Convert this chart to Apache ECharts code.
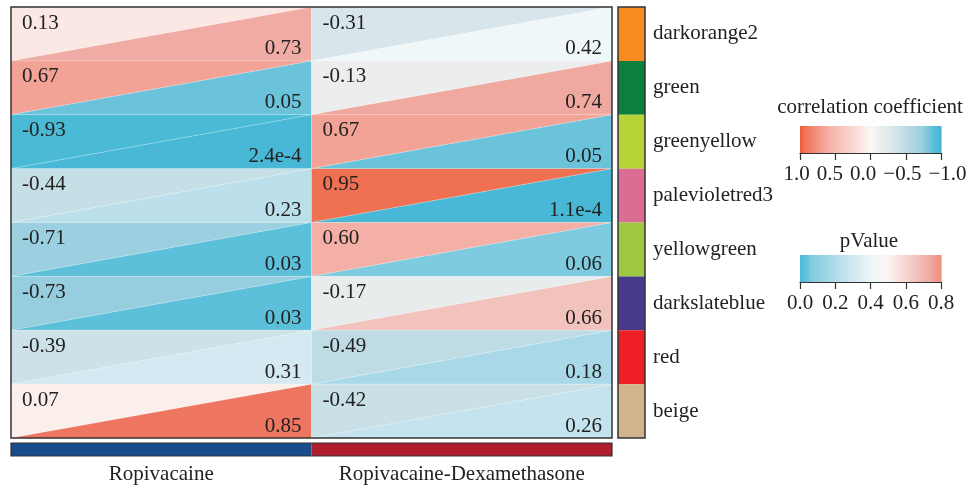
<!DOCTYPE html>
<html>
<head>
<meta charset="utf-8">
<script src="https://cdn.jsdelivr.net/npm/echarts@6/dist/echarts.min.js"></script>
<style>
  html, body { margin: 0; padding: 0; background: #fff; }
  #chart { width: 971px; height: 489px; }
</style>
</head>
<body>
<div id="chart"></div>
<script>
// Module–trait correlation heatmap: each cell split into a correlation triangle
// (upper left) and a p-value triangle (lower right).
const modules = ['darkorange2', 'green', 'greenyellow', 'palevioletred3', 'yellowgreen', 'darkslateblue', 'red', 'beige'];
const moduleColors = ['#F68B21', '#0C7E3E', '#B7D436', '#DB6C94', '#9DC840', '#463B8B', '#EE1F26', '#D2B58C'];
const groups = ['Ropivacaine', 'Ropivacaine-Dexamethasone'];
const groupColors = ['#164B8C', '#AE1E2E'];

const corrRopivacaine = [0.13, 0.67, -0.93, -0.44, -0.71, -0.73, -0.39, 0.07];
const pRopivacaine = [0.73, 0.05, 2.4e-4, 0.23, 0.03, 0.03, 0.31, 0.85];
const corrRopiDexa = [-0.31, -0.13, 0.67, 0.95, 0.60, -0.17, -0.49, -0.42];
const pRopiDexa = [0.42, 0.74, 0.05, 1.1e-4, 0.06, 0.66, 0.18, 0.26];

// legend tick values
const corrTicks = [1, 0.5, 0, -0.5, -1];
const pTicks = [0, 0.2, 0.4, 0.6, 0.8];

// colour ramps (value -> colour stops)
const corrStops = [
  [-1.0, '#45B7D4'], [-0.93, '#4ABAD5'], [-0.72, '#9ACEDF'], [-0.45, '#C5DEE6'],
  [-0.3, '#D9E6EB'], [-0.13, '#ECEEEE'], [0, '#FBF7F6'], [0.1, '#FBEBE8'],
  [0.6, '#F4B0A6'], [0.67, '#F2A396'], [0.95, '#F07052'], [1.0, '#EC5A38']
];
const pStops = [
  [0, '#48B8D6'], [0.03, '#5DC0DA'], [0.05, '#6AC3DB'], [0.06, '#7ECBDF'],
  [0.18, '#A9D9E8'], [0.23, '#BCE0EB'], [0.31, '#D4E9F2'], [0.42, '#F0F7F9'],
  [0.5, '#FBF4F3'], [0.66, '#F2C2BC'], [0.74, '#F0A9A0'], [0.85, '#EE7660']
];

function hexToRgb(h) {
  return [parseInt(h.slice(1, 3), 16), parseInt(h.slice(3, 5), 16), parseInt(h.slice(5, 7), 16)];
}
function rampColor(stops, v) {
  if (v <= stops[0][0]) return stops[0][1];
  for (let i = 1; i < stops.length; i++) {
    if (v <= stops[i][0]) {
      const t = (v - stops[i - 1][0]) / (stops[i][0] - stops[i - 1][0]);
      const a = hexToRgb(stops[i - 1][1]), b = hexToRgb(stops[i][1]);
      const c = a.map((x, k) => Math.round(x + (b[k] - x) * t));
      return 'rgb(' + c.join(',') + ')';
    }
  }
  return stops[stops.length - 1][1];
}
const fmtCorr = v => v.toFixed(2);
const fmtP = v => (v < 0.01 ? v.toExponential(1) : v.toFixed(2));
const fmtTick = v => (v < 0 ? '\u2212' + Math.abs(v).toFixed(1) : v.toFixed(1));

const FONT = '"Liberation Serif", "Times New Roman", serif';
const FS = 21;
const TXT = '#222';

const measureCtx = document.createElement('canvas').getContext('2d');
measureCtx.font = FS + 'px ' + FONT;
const textWidth = s => measureCtx.measureText(s).width;

const cellData = [];
modules.forEach((m, r) => {
  cellData.push([0, r, corrRopivacaine[r], pRopivacaine[r]]);
  cellData.push([1, r, corrRopiDexa[r], pRopiDexa[r]]);
});

function renderCell(params, api) {
  const ctr = api.coord([api.value(0), api.value(1)]);
  const sz = api.size([1, 1]);
  const x0 = ctr[0] - sz[0] / 2, x1 = ctr[0] + sz[0] / 2;
  const y0 = ctr[1] - sz[1] / 2, y1 = ctr[1] + sz[1] / 2;
  const corr = api.value(2), p = api.value(3);
  const edge = { stroke: 'rgba(255,255,255,0.3)', lineWidth: 0.6 };
  return {
    type: 'group',
    children: [
      { type: 'polygon', shape: { points: [[x0, y0], [x1, y0], [x0, y1]] },
        style: Object.assign({ fill: rampColor(corrStops, corr) }, edge) },
      { type: 'polygon', shape: { points: [[x1, y0], [x1, y1], [x0, y1]] },
        style: Object.assign({ fill: rampColor(pStops, p) }, edge) },
      { type: 'text', style: { text: fmtCorr(corr), x: x0 + 11, y: y0 + 16,
        verticalAlign: 'middle', align: 'left', fill: TXT, fontSize: FS, fontFamily: FONT } },
      { type: 'text', style: { text: fmtP(p), x: x1 - 10, y: y1 - 12,
        verticalAlign: 'middle', align: 'right', fill: TXT, fontSize: FS, fontFamily: FONT } }
    ]
  };
}

function blockRenderer(colors) {
  return function (params, api) {
    const ctr = api.coord([api.value(0), api.value(1)]);
    const sz = api.size([1, 1]);
    return { type: 'rect', shape: { x: ctr[0] - sz[0] / 2, y: ctr[1] - sz[1] / 2, width: sz[0], height: sz[1] },
      style: { fill: colors[params.dataIndex] } };
  };
}

// colour bar made of narrow stripes; tick labels sit under their ticks and are
// spread apart where neighbouring labels would collide
function legendRenderer(stops, lo, hi, n, ticks) {
  return function (params, api) {
    const cs = params.coordSys;
    const children = [];
    const step = (hi - lo) / n;
    for (let i = 0; i < n; i++) {
      const a = api.coord([lo + i * step, 0])[0];
      const b = api.coord([lo + (i + 1) * step, 0])[0];
      const v = lo + (i + 0.5) * step;
      children.push({
        type: 'rect',
        shape: { x: Math.min(a, b), y: cs.y, width: Math.abs(b - a) + 0.6, height: cs.height },
        style: { fill: rampColor(stops, v) }
      });
    }
    const labels = ticks.map(t => ({ text: fmtTick(t), cx: api.coord([t, 0])[0] }))
      .map(l => Object.assign(l, { w: textWidth(l.text) }))
      .sort((p, q) => p.cx - q.cx);
    const gap = 7;
    for (let iter = 0; iter < 40; iter++) {
      for (let i = 0; i < labels.length - 1; i++) {
        const a = labels[i], b = labels[i + 1];
        const overlap = (a.cx + a.w / 2 + gap) - (b.cx - b.w / 2);
        if (overlap > 0) {
          // the right-hand end label is allowed to move less than its neighbours
          const share = i + 1 === labels.length - 1 ? 0.25 : 0.5;
          a.cx -= overlap * (1 - share);
          b.cx += overlap * share;
        }
      }
    }
    labels.forEach(l => {
      children.push({
        type: 'text',
        style: { text: l.text, x: l.cx, y: cs.y + cs.height + 21,
          align: 'center', verticalAlign: 'middle', fill: TXT, fontSize: FS, fontFamily: FONT }
      });
    });
    return { type: 'group', children };
  };
}

const chart = echarts.init(document.getElementById('chart'), null, { renderer: 'canvas' });

const rowData = modules.map((m, r) => [0, r]);
const colData = groups.map((g, c) => [c, 0]);

const axisLineStyle = { color: '#333', width: 1.2 };

chart.setOption({
  backgroundColor: '#fff',
  animation: false,
  graphic: [
    { type: 'text', x: 870, y: 107, style: { text: 'correlation coefficient', align: 'center',
      verticalAlign: 'middle', fill: TXT, fontSize: FS, fontFamily: FONT } },
    { type: 'text', x: 869, y: 241, style: { text: 'pValue', align: 'center',
      verticalAlign: 'middle', fill: TXT, fontSize: FS, fontFamily: FONT } }
  ],
  grid: [
    { left: 11, top: 7, width: 601, height: 431, show: true, z: 5,
      borderColor: '#333', borderWidth: 1.5, backgroundColor: 'transparent' },
    { left: 618, top: 7, width: 27, height: 431, show: true, z: 5,
      borderColor: '#333', borderWidth: 1.5, backgroundColor: 'transparent' },
    { left: 11, top: 443, width: 601, height: 13, show: true, z: 5,
      borderColor: '#333', borderWidth: 1.2, backgroundColor: 'transparent' },
    { left: 800, top: 126, width: 141, height: 27 },
    { left: 800, top: 255, width: 141, height: 27 }
  ],
  xAxis: [
    { gridIndex: 0, type: 'category', data: groups, show: false },
    { gridIndex: 1, type: 'category', data: ['module'], show: false },
    { gridIndex: 2, type: 'category', data: groups,
      axisLine: { show: false }, axisTick: { show: false },
      axisLabel: { interval: 0, margin: 8, color: TXT, fontSize: FS, fontFamily: FONT } },
    { gridIndex: 3, type: 'value', min: -1, max: 1, interval: 0.5, inverse: true,
      axisLine: { show: true, lineStyle: axisLineStyle },
      axisTick: { show: true, length: 7, lineStyle: axisLineStyle },
      splitLine: { show: false }, axisLabel: { show: false } },
    { gridIndex: 4, type: 'value', min: 0, max: 0.8, interval: 0.2,
      axisLine: { show: true, lineStyle: axisLineStyle },
      axisTick: { show: true, length: 7, lineStyle: axisLineStyle },
      splitLine: { show: false }, axisLabel: { show: false } }
  ],
  yAxis: [
    { gridIndex: 0, type: 'category', data: modules, inverse: true, show: false },
    { gridIndex: 1, type: 'category', data: modules, inverse: true, position: 'right',
      axisLine: { show: false }, axisTick: { show: false },
      axisLabel: { interval: 0, margin: 8, padding: [5, 0, 0, 0], color: TXT, fontSize: FS, fontFamily: FONT } },
    { gridIndex: 2, type: 'category', data: ['group'], show: false },
    { gridIndex: 3, type: 'value', min: 0, max: 1, show: false },
    { gridIndex: 4, type: 'value', min: 0, max: 1, show: false }
  ],
  series: [
    { type: 'custom', xAxisIndex: 0, yAxisIndex: 0, data: cellData, renderItem: renderCell, z: 2 },
    { type: 'custom', xAxisIndex: 1, yAxisIndex: 1, data: rowData, z: 2,
      renderItem: blockRenderer(moduleColors) },
    { type: 'custom', xAxisIndex: 2, yAxisIndex: 2, data: colData, z: 2,
      renderItem: blockRenderer(groupColors) },
    { type: 'custom', xAxisIndex: 3, yAxisIndex: 3, data: [[0, 0]], z: 1, clip: false,
      renderItem: legendRenderer(corrStops, -1, 1, 60, corrTicks) },
    { type: 'custom', xAxisIndex: 4, yAxisIndex: 4, data: [[0, 0]], z: 1, clip: false,
      renderItem: legendRenderer(pStops, 0, 0.8, 60, pTicks) }
  ]
});
</script>
</body>
</html>
